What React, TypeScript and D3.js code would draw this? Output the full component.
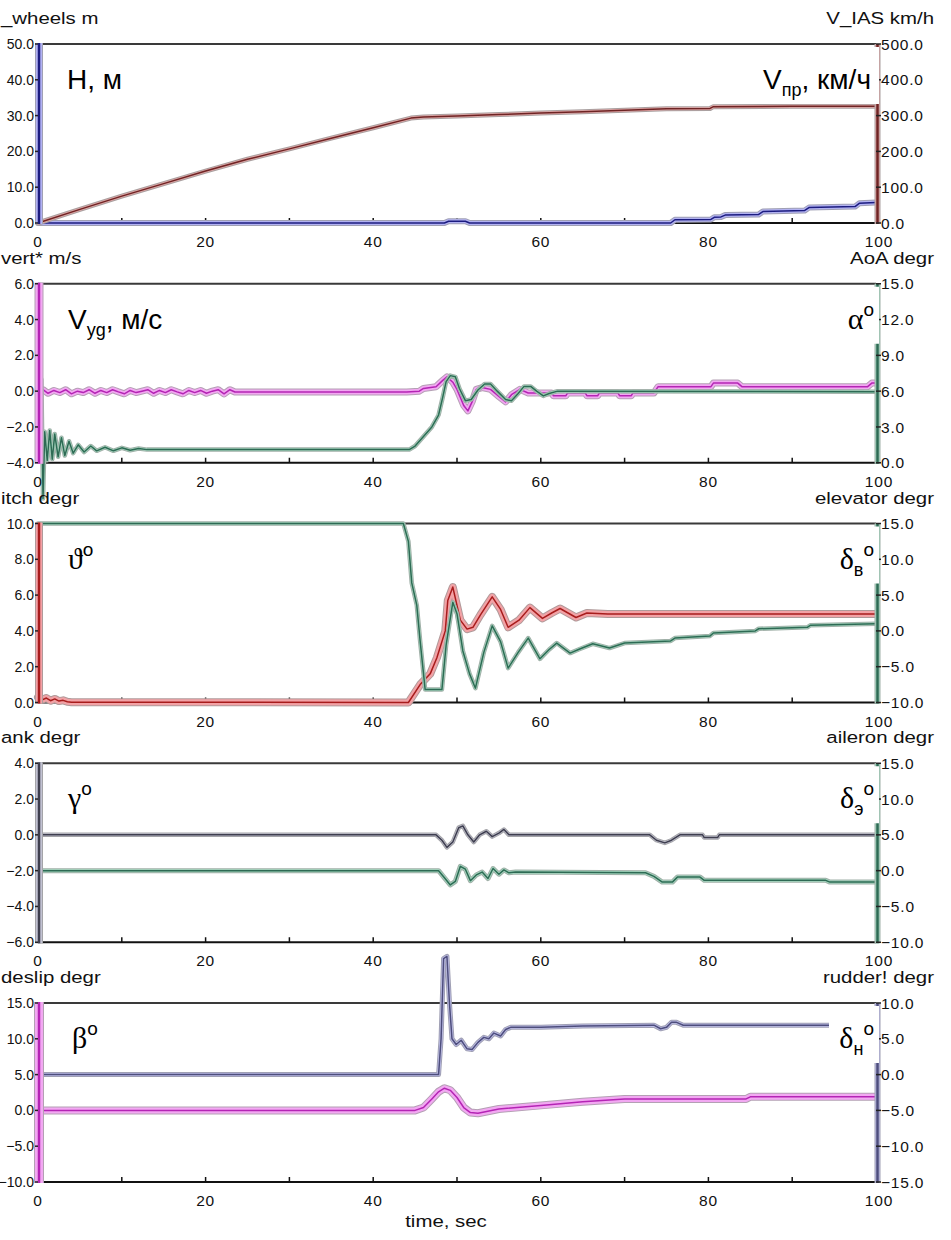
import React from "react";
import * as d3 from "d3";

// ---------- data ----------
const timeLabels = [0, 20, 40, 60, 80, 100];
const timeMinor = [10, 30, 50, 70, 90];

// panel 1: H_wheels (m, left) and V_IAS (km/h, right)
const hWheelsPts: [number, number][] = [
  [0, 0], [48.5, 0], [49, 0.5], [51, 0.5], [51.5, 0], [75.5, 0], [76, 0.9], [80.3, 1.0],
  [80.7, 1.6], [81.5, 1.7], [82, 2.2], [86, 2.4], [86.5, 3.2], [91.5, 3.5], [92, 4.3],
  [97.5, 4.6], [98, 5.5], [100, 5.7],
];
const vIasPts: [number, number][] = [
  [0, 0], [5, 38], [10, 75], [15, 110], [20, 145], [25, 178], [30, 207], [35, 237], [40, 266],
  [44.5, 293], [46, 296], [50, 299], [55, 303], [60, 307], [65, 311], [70, 315], [75, 319],
  [80.2, 320], [80.6, 325], [90, 326], [100, 326],
];

// panel 2: vertical speed (m/s, left) and AoA (deg, right)
const vyPts: [number, number][] = [
  [0, 0], [0.6, 0.08], [1.2, -0.12], [1.9, 0.04], [2.6, -0.08], [3.3, 0.08], [4.0, -0.15], [4.7, 0.0],
  [5.4, -0.08], [6.1, 0.08], [6.8, -0.12], [7.5, 0.04], [8.2, -0.08], [8.9, 0.08], [9.6, -0.04],
  [10.3, -0.15], [11.0, 0.04], [11.7, -0.08], [12.4, 0.0], [13.1, 0.08], [13.8, -0.12], [14.5, 0.04],
  [15.2, -0.08], [15.9, 0.08], [16.6, -0.04], [17.3, -0.15], [18.0, 0.04], [18.7, -0.08], [19.4, 0.04],
  [20.1, -0.12], [20.8, 0.0], [21.5, 0.08], [22.2, -0.15], [22.9, 0.08], [23.5, -0.05],
  [44, -0.05], [45.5, 0.0], [46, 0.15], [47.5, 0.25], [48.3, 0.6], [48.8, 0.8], [49.5, 0.5],
  [50, 0.1], [50.8, -0.8], [51.3, -1.1], [51.8, -0.6], [52.3, 0.1], [53, 0.2], [54, 0.1],
  [55, -0.3], [55.8, -0.6], [56.5, -0.2], [57.5, 0.1], [58.5, -0.1], [61.3, -0.1], [61.5, -0.25],
  [63, -0.25], [63.2, -0.1], [65.3, -0.1], [65.5, -0.25], [66.8, -0.25], [67, -0.1], [69.2, -0.1],
  [69.4, -0.25], [70.8, -0.25], [71, -0.1], [73.5, -0.1], [74, 0.25], [80.3, 0.25], [80.6, 0.45],
  [83.5, 0.45], [84, 0.25], [99, 0.25], [99.5, 0.45], [100, 0.45],
];
const aoaPts: [number, number][] = [
  [0.4, 7.0], [0.6, -3.0], [0.8, 2.6], [1.1, 0.2], [1.4, 2.7], [1.7, 0.3], [2.0, 2.4], [2.4, 0.5],
  [2.8, 2.1], [3.2, 0.6], [3.7, 1.8], [4.2, 0.8], [4.8, 1.5], [5.5, 0.9], [6.3, 1.4], [7, 1.0],
  [8, 1.3], [9, 1.0], [10, 1.25], [11, 1.05], [12, 1.2], [13, 1.1], [44.3, 1.1], [45, 1.4],
  [46, 2.2], [47, 3.0], [47.8, 4.0], [48.3, 5.5], [48.7, 6.8], [49.2, 7.3], [49.8, 7.2],
  [50.3, 6.2], [51, 5.2], [51.7, 5.3], [52.5, 6.1], [53.3, 6.6], [54, 6.6], [54.8, 6.0],
  [55.8, 5.3], [56.5, 5.2], [57.3, 5.8], [58, 6.4], [58.8, 6.4], [59.5, 6.0], [60.3, 5.6],
  [61, 5.8], [62, 6.0], [100, 5.95],
];

// panel 3: pitch (deg, left) and elevator (deg, right)
const pitchPts: [number, number][] = [
  [0, 0.3], [0.5, 0.15], [1, 0.25], [1.5, 0.1], [2, 0.2], [2.5, 0.08], [3, 0.12], [3.5, 0.04],
  [4, 0.02], [44.2, 0], [45.6, 1.0], [46.8, 1.6], [47.6, 2.5], [48.6, 4.0], [48.9, 5.7],
  [49.5, 6.45], [50.4, 4.6], [51.2, 4.1], [51.9, 4.2], [52.8, 4.9], [54.2, 5.9], [55.2, 5.2],
  [56.1, 4.2], [57.4, 4.6], [58.7, 5.3], [60.2, 4.7], [61.3, 5.0], [62.3, 5.25], [64.2, 4.75],
  [65.5, 5.0], [68, 4.95], [100, 4.95],
];
const elevatorPts: [number, number][] = [
  [0, 15], [43.6, 15], [44.2, 12.5], [44.6, 6.7], [45.2, 3.6], [45.6, -1.4], [46.2, -8.2],
  [48.2, -8.2], [48.7, -2], [49.5, 4.0], [50.0, 2.4], [50.7, -2.8], [51.5, -6], [52.2, -8.0],
  [53.2, -3], [54.2, 0.7], [55.2, -1.5], [56.1, -5.2], [57.3, -3], [58.5, -1.0], [59.9, -3.9],
  [61.0, -2.6], [61.9, -1.7], [63.5, -3.1], [64.5, -2.6], [66.2, -1.8], [68.2, -2.4], [70, -1.7],
  [75.5, -1.4], [76, -1.0], [80.2, -0.7], [80.6, -0.3], [85.6, 0], [86, 0.3], [91.8, 0.5],
  [92.2, 0.8], [100, 1.0],
];

// panel 4: bank (deg, left) and aileron (deg, right)
const bankPts: [number, number][] = [
  [0, 0], [47.5, 0], [48.2, -0.3], [48.8, -0.7], [49.5, -0.4], [50.2, 0.4], [50.7, 0.5],
  [51.3, 0.0], [52, -0.4], [52.7, 0.0], [53.5, 0.2], [54.2, -0.1], [55, 0.1], [55.6, 0.3],
  [56.2, 0], [73, 0], [73.8, -0.3], [74.8, -0.45], [75.6, -0.3], [76.6, 0], [79.3, 0],
  [79.5, -0.15], [81.1, -0.15], [81.3, 0], [100, 0],
];
const aileronPts: [number, number][] = [
  [0, 0], [47.8, 0], [48.5, -1.0], [49.2, -2.0], [49.8, -1.5], [50.4, 0.6], [51, 0.2],
  [51.6, -1.4], [52.3, -0.6], [53, -0.2], [53.7, -1.1], [54.3, 0.3], [55, -0.5], [55.6, 0.1],
  [56.2, -0.3], [57, -0.2], [72.5, -0.3], [73.5, -0.8], [74.5, -1.6], [75.7, -1.6], [76.3, -0.9],
  [79, -0.9], [79.5, -1.35], [94, -1.35], [94.5, -1.6], [100, -1.6],
];

// panel 5: sideslip (deg, left) and rudder (deg, right)
const sideslipPts: [number, number][] = [
  [0, 0], [45, 0], [46, 0.4], [47, 1.6], [47.8, 2.6], [48.5, 3.1], [49.2, 2.8], [50, 1.8],
  [50.8, 0.4], [51.6, -0.3], [52.5, -0.4], [55, 0.2], [60, 0.7], [65, 1.2], [70, 1.6], [71, 1.6],
  [84.5, 1.6], [85, 1.9], [100, 1.9],
];
const rudderPts: [number, number][] = [
  [0, 0], [47.8, 0], [48.1, 5], [48.4, 16.2], [48.8, 16.5], [49.1, 10], [49.4, 5], [49.9, 4.2],
  [50.5, 4.8], [51.2, 3.6], [51.8, 3.5], [52.5, 4.5], [53.2, 5.2], [53.8, 5.0], [54.4, 5.8],
  [55.2, 5.4], [55.8, 6.3], [56.4, 6.6], [60, 6.6], [65, 6.8], [73.5, 6.9], [74.3, 6.4],
  [75, 6.6], [75.6, 7.3], [76.2, 7.3], [77, 6.9], [100, 6.9],
];

// axis ticks
const hTicks = [0, 10, 20, 30, 40, 50];
const iasTicks = [0, 100, 200, 300, 400, 500];
const vyTicks = [-4, -2, 0, 2, 4, 6];
const aoaTicks = [0, 3, 6, 9, 12, 15];
const pitchTicks = [0, 2, 4, 6, 8, 10];
const elevTicks = [-10, -5, 0, 5, 10, 15];
const bankTicks = [-6, -4, -2, 0, 2, 4];
const ailTicks = [-10, -5, 0, 5, 10, 15];
const slipTicks = [-10, -5, 0, 5, 10, 15];
const rudTicks = [-15, -10, -5, 0, 5, 10];

const leftTitles = ["_wheels m", "vert* m/s", "itch degr", "ank degr", "deslip degr"];
const rightTitles = ["V_IAS km/h", "AoA degr", "elevator degr", "aileron degr", "rudder! degr"];

// ---------- styles / layout ----------
type Style = { core: string; halo: string; edge: string };
const RED: Style = { core: "#6e2424", halo: "#e2a6a6", edge: "#a9a0a0" };
const PITCH: Style = { core: "#a81c1c", halo: "#f2a2a6", edge: "#b09a9a" };
const BLUE: Style = { core: "#1c1c80", halo: "#b2b2f2", edge: "#a0a0b4" };
const MAGENTA: Style = { core: "#b424b4", halo: "#f2a8f2", edge: "#b4a0b4" };
const GREEN: Style = { core: "#2e6a54", halo: "#a2d8bf", edge: "#a0b0a8" };
const SLATE: Style = { core: "#3e3e4e", halo: "#c2c2d2", edge: "#a4a4a8" };
const PURPLE: Style = { core: "#4e4e7c", halo: "#bcbce8", edge: "#a0a0b4" };

const SANS = "'Liberation Sans', Arial, Helvetica, sans-serif";
const SERIF = "'Liberation Serif', 'DejaVu Serif', 'Times New Roman', serif";

const W = 951;
const H = 1240;
const X0 = 38;
const X1 = 876;
const TOP0 = 44;
const STEP = 239.75;
const PH = 179;

type Panel = {
  left: [number, number][];
  right: [number, number][];
  lTicks: number[];
  rTicks: number[];
  lStyle: Style;
  rStyle: Style;
  lWidth: number;
  rWidth: number;
  lBar: number;
  boxW: number;
};

const panels: Panel[] = [
  { left: hWheelsPts, right: vIasPts, lTicks: hTicks, rTicks: iasTicks, lStyle: BLUE, rStyle: RED, lWidth: 6, rWidth: 5, lBar: 8, boxW: 134 },
  { left: vyPts, right: aoaPts, lTicks: vyTicks, rTicks: aoaTicks, lStyle: MAGENTA, rStyle: GREEN, lWidth: 7, rWidth: 4.5, lBar: 9, boxW: 50 },
  { left: pitchPts, right: elevatorPts, lTicks: pitchTicks, rTicks: elevTicks, lStyle: PITCH, rStyle: GREEN, lWidth: 8, rWidth: 4.5, lBar: 8, boxW: 50 },
  { left: bankPts, right: aileronPts, lTicks: bankTicks, rTicks: ailTicks, lStyle: SLATE, rStyle: GREEN, lWidth: 4.5, rWidth: 5, lBar: 8, boxW: 50 },
  { left: sideslipPts, right: rudderPts, lTicks: slipTicks, rTicks: rudTicks, lStyle: MAGENTA, rStyle: PURPLE, lWidth: 8, rWidth: 5, lBar: 10, boxW: 50 },
];

const fmt = d3.format(".1f");
const x = d3.scaleLinear().domain([0, 100]).range([X0, X1]);

function Trace({ pts, y, st, w }: { pts: [number, number][]; y: d3.ScaleLinear<number, number>; st: Style; w: number }) {
  const d = d3
    .line<[number, number]>()
    .x((p) => x(p[0]))
    .y((p) => y(p[1]))(pts) as string;
  return (
    <g fill="none" strokeLinejoin="round" strokeLinecap="round">
      <path d={d} stroke={st.edge} strokeWidth={w} />
      <path d={d} stroke={st.halo} strokeWidth={Math.max(w - 2, 1.5)} />
      <path d={d} stroke={st.core} strokeWidth={1.5} />
    </g>
  );
}

function Bar({ cx, y0, y1, st, w }: { cx: number; y0: number; y1: number; st: Style; w: number }) {
  return (
    <g strokeLinecap="butt">
      <line x1={cx} x2={cx} y1={y0} y2={y1} stroke={st.edge} strokeWidth={w} />
      <line x1={cx} x2={cx} y1={y0} y2={y1} stroke={st.halo} strokeWidth={w - 2} />
      <line x1={cx} x2={cx} y1={y0} y2={y1} stroke={st.core} strokeWidth={2.5} />
    </g>
  );
}

function Deg() {
  return (
    <tspan fontFamily={SANS} fontSize={19} dy={-13}>
      o
    </tspan>
  );
}

function LeftLabel({ i, base }: { i: number; base: number }) {
  if (i === 0)
    return (
      <text x={67} y={base} fontFamily={SANS} fontSize={28}>
        H, м
      </text>
    );
  if (i === 1)
    return (
      <text x={68} y={base} fontFamily={SANS} fontSize={28}>
        V<tspan fontSize={18} dy={7}>yg</tspan>
        <tspan dy={-7}>, м/с</tspan>
      </text>
    );
  const sym = i === 2 ? "ϑ" : i === 3 ? "γ" : "β";
  return (
    <text x={i === 4 ? 72 : 68} y={base} fontFamily={SERIF} fontSize={30}>
      {sym}
      <Deg />
    </text>
  );
}

function RightLabel({ i, base }: { i: number; base: number }) {
  if (i === 0)
    return (
      <text x={871} y={base} textAnchor="end" fontFamily={SANS} fontSize={28}>
        V<tspan fontSize={18} dy={7}>пр</tspan>
        <tspan dy={-7}>, км/ч</tspan>
      </text>
    );
  if (i === 1)
    return (
      <text x={874} y={base} textAnchor="end" fontFamily={SERIF} fontSize={30}>
        α
        <Deg />
      </text>
    );
  const sub = i === 2 ? "в" : i === 3 ? "э" : "н";
  return (
    <text x={874} y={base} textAnchor="end" fontFamily={SERIF} fontSize={30}>
      δ
      <tspan fontFamily={SANS} fontSize={18} dy={7}>
        {sub}
      </tspan>
      <tspan fontFamily={SANS} fontSize={19} dy={-20}>
        o
      </tspan>
    </text>
  );
}

function PanelView({ p, i }: { p: Panel; i: number }) {
  const top = TOP0 + i * STEP;
  const bottom = top + PH;
  const yL = d3.scaleLinear().domain([p.lTicks[0], p.lTicks[p.lTicks.length - 1]]).range([bottom, top]);
  const yR = d3.scaleLinear().domain([p.rTicks[0], p.rTicks[p.rTicks.length - 1]]).range([bottom, top]);
  const tickFont = { fontFamily: SANS, fontSize: 15.5, letterSpacing: 0.8, fill: "#111" };
  const leftTickFont = { fontFamily: SANS, fontSize: 14, letterSpacing: 0, fill: "#111" };
  return (
    <g>
      {/* frame */}
      <line x1={X0} x2={X1} y1={top} y2={top} stroke="#3a3a3a" strokeWidth={2} />
      <line x1={X0} x2={X1} y1={bottom} y2={bottom} stroke="#111" strokeWidth={2} />
      {timeMinor.concat(timeLabels).map((t) => (
        <line key={"tk" + t} x1={x(t)} x2={x(t)} y1={bottom} y2={bottom - 5} stroke="#111" strokeWidth={1.5} />
      ))}

      {/* traces */}
      <Trace pts={p.left} y={yL} st={p.lStyle} w={p.lWidth} />
      <Trace pts={p.right} y={yR} st={p.rStyle} w={p.rWidth} />

      {/* coloured axis bars */}
      <Bar cx={X0 + 1} y0={top - 1} y1={bottom + 1} st={p.lStyle} w={p.lBar} />
      <Bar cx={X1 + 1.5} y0={top} y1={bottom + 1} st={p.rStyle} w={6} />

      {p.lTicks.map((v) => (
        <line key={"lt" + v} x1={X0 - 3} x2={X0} y1={yL(v)} y2={yL(v)} stroke="#222" strokeWidth={1.5} />
      ))}
      {p.rTicks.map((v) => (
        <line key={"rt" + v} x1={X1} x2={X1 + 5} y1={yR(v)} y2={yR(v)} stroke="#222" strokeWidth={1.5} />
      ))}

      {/* white box under the right-hand label */}
      <rect x={879 - p.boxW} y={top + 3} width={p.boxW} height={57} fill="#fff" />

      <LeftLabel i={i} base={top + 45} />
      <RightLabel i={i} base={top + 45} />

      {/* tick labels */}
      {p.lTicks.map((v) => (
        <text key={"ll" + v} x={34} y={yL(v)} dy="0.36em" textAnchor="end" {...leftTickFont}>
          {fmt(v)}
        </text>
      ))}
      {p.rTicks.map((v) => (
        <text key={"rl" + v} x={881} y={yR(v)} dy="0.36em" textAnchor="start" {...tickFont}>
          {fmt(v)}
        </text>
      ))}
      {timeLabels.map((t) => (
        <text key={"xl" + t} x={x(t) + (t === 100 ? 3 : 0)} y={bottom + 24} textAnchor="middle" {...tickFont}>
          {t}
        </text>
      ))}

      {/* axis titles */}
      <text transform={`translate(1,${top - 20}) scale(1.2,1)`} fontFamily={SANS} fontSize={17} fill="#111">
        {leftTitles[i]}
      </text>
      <text transform={`translate(934,${top - 20}) scale(1.2,1)`} textAnchor="end" fontFamily={SANS} fontSize={17} fill="#111">
        {rightTitles[i]}
      </text>
    </g>
  );
}

export default function App() {
  return (
    <svg
      width={W}
      height={H}
      viewBox={`0 0 ${W} ${H}`}
      style={{ position: "absolute", left: 0, top: 0, display: "block", background: "#fff" }}
    >
      <rect x={0} y={0} width={W} height={H} fill="#fff" />
      {panels.map((p, i) => (
        <PanelView key={i} p={p} i={i} />
      ))}
      <text transform={`translate(446,1227) scale(1.2,1)`} textAnchor="middle" fontFamily={SANS} fontSize={17} fill="#111">
        time, sec
      </text>
    </svg>
  );
}
